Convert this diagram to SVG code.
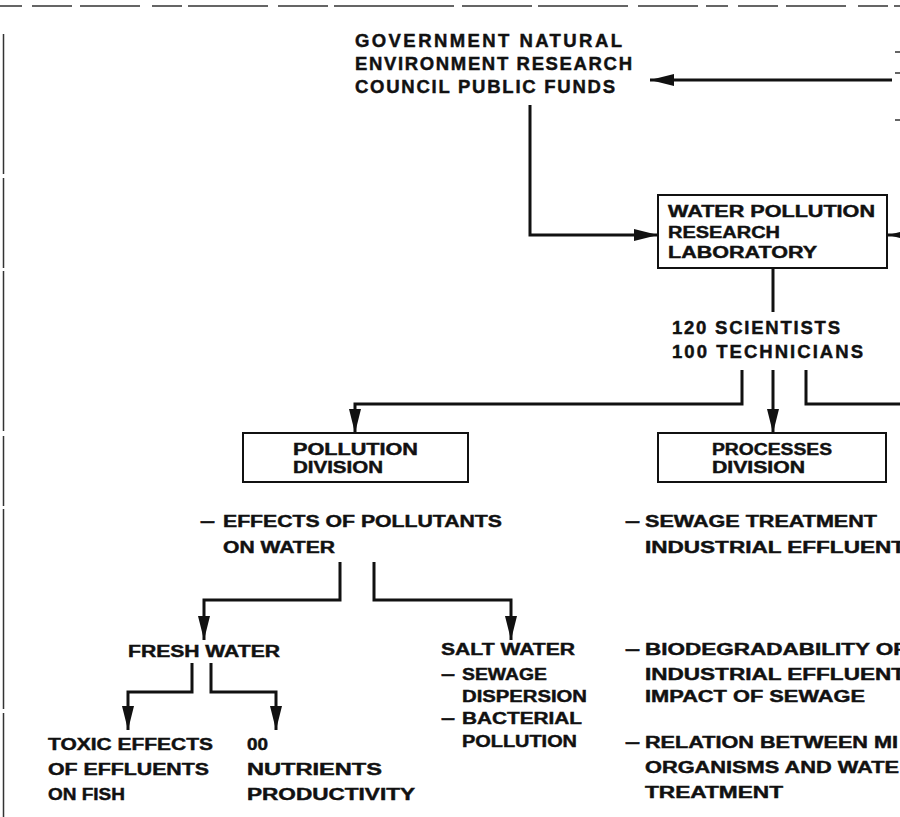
<svg xmlns="http://www.w3.org/2000/svg" width="900" height="817" viewBox="0 0 900 817">
<defs>
<style>
text{font-family:"Liberation Sans",Arial,Helvetica,sans-serif;font-weight:bold;fill:#111;stroke:#111;stroke-width:0.45}
.t{font-size:18.5px}
.s{font-size:16.8px}
.box{fill:#fff;stroke:#111;stroke-width:2}
.conn{fill:none;stroke:#111;stroke-width:3;stroke-linejoin:miter}
.edge{fill:none;stroke:#333;stroke-width:1.5}
</style>
<marker id="ah" markerUnits="userSpaceOnUse" markerWidth="24" markerHeight="12" refX="24" refY="6" orient="auto" viewBox="0 0 24 12"><path d="M0,0 L24,6 L0,12 z" fill="#111"/></marker>
</defs>
<rect width="900" height="817" fill="#fff"/>
<g id="frame">
<path class="edge" d="M0,6 H900" stroke-dasharray="22 10 40 8 60 12 30 6 80 10 50 6 120 8 70 6 90 10 60 8"/>
<path class="edge" d="M3.5,34 V817" stroke-dasharray="140 4 90 3 160 5 70 3 200 4 150"/>
<path class="edge" d="M895,52 H900 M895,73 H900 M895,120 H900"/>
</g>
<g id="connectors">
<path class="conn" d="M892,80 H650" marker-end="url(#ah)"/>
<path class="conn" d="M910,235 H888" marker-end="url(#ah)"/>
<path class="conn" d="M530,105 V235 H658" marker-end="url(#ah)"/>
<path class="conn" d="M773,268 V312"/>
<path class="conn" d="M742,370 V404 H355 V433" marker-end="url(#ah)"/>
<path class="conn" d="M773,370 V433" marker-end="url(#ah)"/>
<path class="conn" d="M806,370 V404 H900"/>
<path class="conn" d="M340,562 V600 H204 V640" marker-end="url(#ah)"/>
<path class="conn" d="M374,562 V600 H511 V640" marker-end="url(#ah)"/>
<path class="conn" d="M192,663 V692 H128 V730" marker-end="url(#ah)"/>
<path class="conn" d="M211,663 V692 H276 V730" marker-end="url(#ah)"/>
</g>
<g id="funds">
<text class="t" x="355" y="47" textLength="267">GOVERNMENT NATURAL</text>
<text class="t" x="355" y="70" textLength="277">ENVIRONMENT RESEARCH</text>
<text class="t" x="355" y="93" textLength="260">COUNCIL PUBLIC FUNDS</text>
</g>
<g id="wprl">
<rect class="box" x="658" y="195" width="229" height="73"/>
<text class="s" x="668" y="217" textLength="207" lengthAdjust="spacingAndGlyphs">WATER POLLUTION</text>
<text class="s" x="668" y="238" textLength="112" lengthAdjust="spacingAndGlyphs">RESEARCH</text>
<text class="s" x="668" y="258" textLength="149" lengthAdjust="spacingAndGlyphs">LABORATORY</text>
</g>
<g id="staff">
<text class="t" x="672" y="334" textLength="168">120 SCIENTISTS</text>
<text class="t" x="672" y="358" textLength="191">100 TECHNICIANS</text>
</g>
<g id="pollution-division">
<rect class="box" x="243" y="433" width="225" height="49"/>
<text class="s" x="293" y="455" textLength="125" lengthAdjust="spacingAndGlyphs">POLLUTION</text>
<text class="s" x="293" y="473" textLength="90" lengthAdjust="spacingAndGlyphs">DIVISION</text>
</g>
<g id="processes-division">
<rect class="box" x="658" y="433" width="228" height="49"/>
<text class="s" x="712" y="455" textLength="120" lengthAdjust="spacingAndGlyphs">PROCESSES</text>
<text class="s" x="712" y="473" textLength="93" lengthAdjust="spacingAndGlyphs">DIVISION</text>
</g>
<g id="effects">
<text class="s" x="200" y="527" textLength="15" lengthAdjust="spacingAndGlyphs">–</text>
<text class="s" x="223" y="527" textLength="279" lengthAdjust="spacingAndGlyphs">EFFECTS OF POLLUTANTS</text>
<text class="s" x="223" y="553" textLength="112" lengthAdjust="spacingAndGlyphs">ON WATER</text>
</g>
<g id="sewage-treatment">
<text class="s" x="625" y="527" textLength="15" lengthAdjust="spacingAndGlyphs">–</text>
<text class="s" x="645" y="527" textLength="232" lengthAdjust="spacingAndGlyphs">SEWAGE TREATMENT</text>
<text class="s" x="645" y="553" textLength="260" lengthAdjust="spacingAndGlyphs">INDUSTRIAL EFFLUENT</text>
</g>
<g id="fresh-water">
<text class="s" x="128" y="657" textLength="152" lengthAdjust="spacingAndGlyphs">FRESH WATER</text>
</g>
<g id="salt-water">
<text class="s" x="441" y="655" textLength="134" lengthAdjust="spacingAndGlyphs">SALT WATER</text>
<text class="s" x="441" y="680" textLength="14" lengthAdjust="spacingAndGlyphs">–</text>
<text class="s" x="462" y="680" textLength="85" lengthAdjust="spacingAndGlyphs">SEWAGE</text>
<text class="s" x="462" y="702" textLength="125" lengthAdjust="spacingAndGlyphs">DISPERSION</text>
<text class="s" x="441" y="724" textLength="14" lengthAdjust="spacingAndGlyphs">–</text>
<text class="s" x="462" y="724" textLength="120" lengthAdjust="spacingAndGlyphs">BACTERIAL</text>
<text class="s" x="462" y="747" textLength="115" lengthAdjust="spacingAndGlyphs">POLLUTION</text>
</g>
<g id="toxic">
<text class="s" x="48" y="750" textLength="165" lengthAdjust="spacingAndGlyphs">TOXIC EFFECTS</text>
<text class="s" x="48" y="775" textLength="161" lengthAdjust="spacingAndGlyphs">OF EFFLUENTS</text>
<text class="s" x="48" y="800" textLength="77" lengthAdjust="spacingAndGlyphs">ON FISH</text>
</g>
<g id="nutrients">
<text class="s" x="247" y="750" textLength="21" lengthAdjust="spacingAndGlyphs">00</text>
<text class="s" x="247" y="775" textLength="135" lengthAdjust="spacingAndGlyphs">NUTRIENTS</text>
<text class="s" x="247" y="800" textLength="168" lengthAdjust="spacingAndGlyphs">PRODUCTIVITY</text>
</g>
<g id="biodegradability">
<text class="s" x="625" y="655" textLength="15" lengthAdjust="spacingAndGlyphs">–</text>
<text class="s" x="645" y="655" textLength="262" lengthAdjust="spacingAndGlyphs">BIODEGRADABILITY OF</text>
<text class="s" x="645" y="680" textLength="260" lengthAdjust="spacingAndGlyphs">INDUSTRIAL EFFLUENT</text>
<text class="s" x="645" y="702" textLength="220" lengthAdjust="spacingAndGlyphs">IMPACT OF SEWAGE</text>
</g>
<g id="relation">
<text class="s" x="625" y="748" textLength="15" lengthAdjust="spacingAndGlyphs">–</text>
<text class="s" x="645" y="748" textLength="253" lengthAdjust="spacingAndGlyphs">RELATION BETWEEN MI</text>
<text class="s" x="645" y="773" textLength="254" lengthAdjust="spacingAndGlyphs">ORGANISMS AND WATE</text>
<text class="s" x="645" y="798" textLength="138" lengthAdjust="spacingAndGlyphs">TREATMENT</text>
</g>
</svg>
